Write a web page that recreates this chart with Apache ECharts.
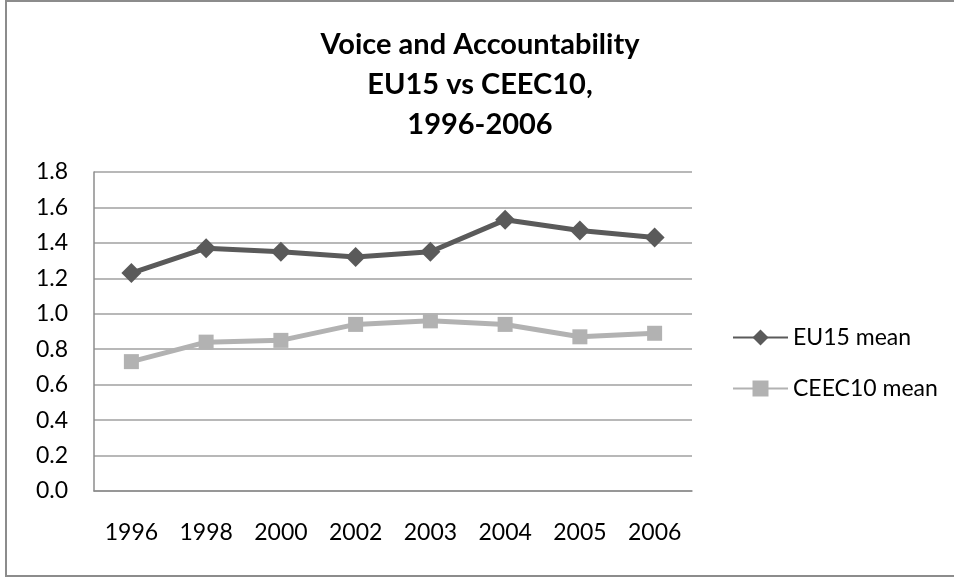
<!DOCTYPE html>
<html>
<head>
<meta charset="utf-8">
<script src="https://cdn.jsdelivr.net/npm/echarts@6/dist/echarts.min.js"></script>
<style>
  html, body { margin: 0; padding: 0; background: #ffffff; }
  #chart { width: 954px; height: 577px; }
</style>
</head>
<body>
<div id="chart"></div>
<script>
// Survey years on the category axis
const years = ['1996', '1998', '2000', '2002', '2003', '2004', '2005', '2006'];

// Voice and Accountability scores, group means
const eu15Mean = [1.23, 1.37, 1.35, 1.32, 1.35, 1.53, 1.47, 1.43];
const ceec10Mean = [0.73, 0.84, 0.85, 0.94, 0.96, 0.94, 0.87, 0.89];

// Value axis ticks
const yTicks = [0.0, 0.2, 0.4, 0.6, 0.8, 1.0, 1.2, 1.4, 1.6, 1.8];

const seriesNames = ['EU15 mean', 'CEEC10 mean'];
const titleLines = ['Voice and Accountability', 'EU15 vs CEEC10,', '1996-2006'];

const FONT = 'Lato';
const chart = echarts.init(document.getElementById('chart'), null, { renderer: 'canvas' });

chart.setOption({
  backgroundColor: '#ffffff',
  animation: false,
  title: {
    text: titleLines.join('\n'),
    left: 480,
    textAlign: 'center',
    top: 25,
    padding: 0,
    textStyle: {
      fontFamily: FONT,
      fontWeight: 'bold',
      fontSize: 29,
      lineHeight: 40,
      color: '#000000'
    }
  },
  graphic: [{
    type: 'rect',
    silent: true,
    shape: { x: 6, y: 1, width: 970, height: 575 },
    style: { fill: 'none', stroke: '#8c8c8c', lineWidth: 2 }
  }],
  legend: {
    orient: 'vertical',
    left: 732,
    top: 326,
    itemWidth: 55,
    itemHeight: 20,
    itemGap: 28,
    padding: 0,
    textStyle: { fontFamily: FONT, fontSize: 23, color: '#000000' },
    data: seriesNames
  },
  grid: { left: 94, right: 262, top: 172, bottom: 86, containLabel: false },
  xAxis: {
    type: 'category',
    data: years,
    boundaryGap: true,
    axisLine: { show: true, lineStyle: { color: '#8c8c8c', width: 1.5 } },
    axisTick: { show: false },
    axisLabel: { fontFamily: FONT, fontSize: 23, color: '#000000', margin: 30 }
  },
  yAxis: {
    type: 'value',
    min: yTicks[0],
    max: yTicks[yTicks.length - 1],
    interval: yTicks[1] - yTicks[0],
    axisLine: { show: true, lineStyle: { color: '#8c8c8c', width: 1.5 } },
    axisTick: { show: false },
    splitLine: { show: true, lineStyle: { color: '#a0a0a0', width: 1.5 } },
    axisLabel: {
      fontFamily: FONT, fontSize: 23, color: '#000000', margin: 26,
      formatter: v => v.toFixed(1)
    }
  },
  series: [
    {
      name: seriesNames[0],
      type: 'line',
      data: eu15Mean,
      symbol: 'diamond',
      symbolSize: 20,
      color: '#5a5a5a',
      lineStyle: { color: '#5a5a5a', width: 5 },
      itemStyle: { color: '#5a5a5a' }
    },
    {
      name: seriesNames[1],
      type: 'line',
      data: ceec10Mean,
      symbol: 'rect',
      symbolSize: 15,
      color: '#b2b2b2',
      lineStyle: { color: '#b2b2b2', width: 5 },
      itemStyle: { color: '#b2b2b2' }
    }
  ]
});
</script>
</body>
</html>
